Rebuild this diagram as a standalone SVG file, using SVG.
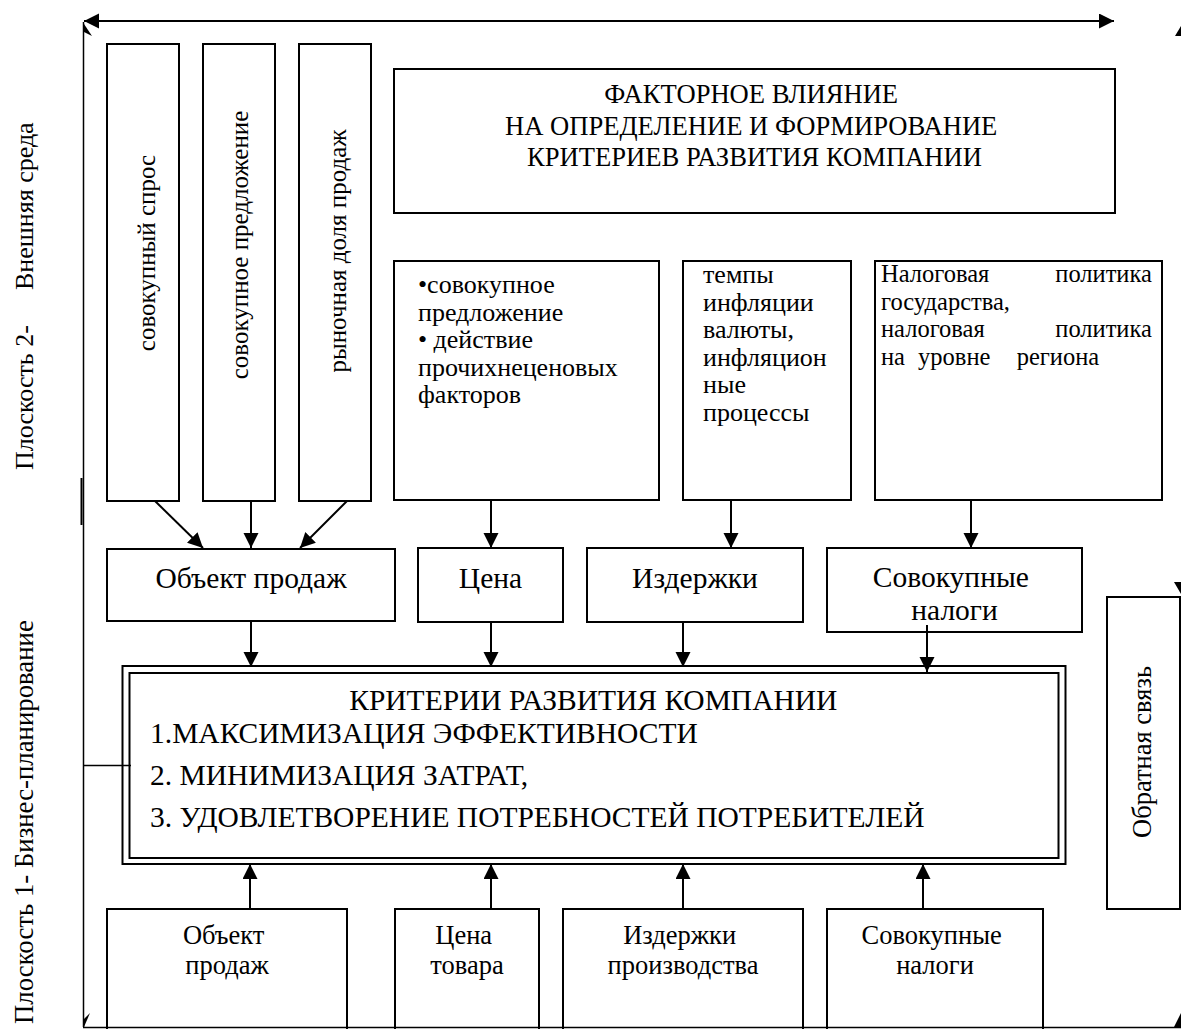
<svg xmlns="http://www.w3.org/2000/svg" width="1181" height="1029" viewBox="0 0 1181 1029">
<style>
.box{fill:#fff;stroke:#000;stroke-width:2}
.t{font-family:'Liberation Serif','Times New Roman',serif;fill:#000}
.c{stroke:#000;stroke-width:2;fill:none}
.thin{stroke:#000;stroke-width:1.5;fill:none}
.ah{fill:#000;stroke:none}
</style>
<defs>
<marker id="arr" markerUnits="userSpaceOnUse" markerWidth="16" markerHeight="16" refX="15" refY="7.5" orient="auto-start-reverse">
<path d="M0,0 L15,7.5 L0,15 z" fill="#000"/>
</marker>
</defs>
<rect width="1181" height="1029" fill="#fff"/>

<g id="label-plane2">
<text class="t" font-size="26" transform="translate(33,0) rotate(-90)"><tspan x="-470" y="0">Плоскость 2-</tspan><tspan x="-290" y="0">Внешняя среда</tspan></text>
</g>
<g id="label-plane1">
<text class="t" font-size="26.8" transform="translate(33,0) rotate(-90)" x="-1024" y="0">Плоскость 1- Бизнес-планирование</text>
</g>

<g id="n-sovokupny-spros">
<rect class="box" x="107" y="44" width="72" height="457"/>
<text class="t" font-size="25" text-anchor="middle" transform="translate(155,253) rotate(-90)">совокупный спрос</text>
</g>
<g id="n-sovokupnoe-predlozhenie">
<rect class="box" x="203" y="44" width="72" height="457"/>
<text class="t" font-size="25" text-anchor="middle" transform="translate(248,245) rotate(-90)">совокупное предложение</text>
</g>
<g id="n-rynochnaya-dolya">
<rect class="box" x="299" y="44" width="72" height="457"/>
<text class="t" font-size="25" text-anchor="middle" transform="translate(346,251) rotate(-90)">рыночная доля продаж</text>
</g>

<g id="n-factor-title">
<rect class="box" x="394" y="69" width="721" height="144"/>
<text class="t" font-size="26.6" text-anchor="middle">
<tspan x="754.5" y="103">ФАКТОРНОЕ ВЛИЯНИЕ</tspan>
<tspan x="754.5" y="135">НА ОПРЕДЕЛЕНИЕ И ФОРМИРОВАНИЕ</tspan>
<tspan x="754.5" y="166">КРИТЕРИЕВ РАЗВИТИЯ КОМПАНИИ</tspan>
</text>
</g>

<g id="n-price-factors">
<rect class="box" x="394" y="261" width="265" height="239"/>
<text class="t" font-size="26">
<tspan x="418" y="293">•совокупное</tspan>
<tspan x="418" y="320.5">предложение</tspan>
<tspan x="418" y="348">• действие</tspan>
<tspan x="418" y="375.5">прочихнеценовых</tspan>
<tspan x="418" y="403">факторов</tspan>
</text>
</g>

<g id="n-inflation">
<rect class="box" x="683" y="261" width="168" height="239"/>
<text class="t" font-size="26">
<tspan x="703" y="283">темпы</tspan>
<tspan x="703" y="310.5">инфляции</tspan>
<tspan x="703" y="338">валюты,</tspan>
<tspan x="703" y="365.5">инфляцион</tspan>
<tspan x="703" y="393">ные</tspan>
<tspan x="703" y="420.5">процессы</tspan>
</text>
</g>

<g id="n-tax-policy">
<rect class="box" x="875" y="261" width="287" height="239"/>
<text class="t" font-size="24.5">
<tspan x="881" y="282">Налоговая</tspan><tspan x="1158" y="282" text-anchor="end">политика</tspan>
<tspan x="881" y="309.5">государства,</tspan>
<tspan x="881" y="337">налоговая</tspan><tspan x="1158" y="337" text-anchor="end">политика</tspan>
<tspan x="881" y="364.5" xml:space="preserve" word-spacing="7">на уровне  региона</tspan>
</text>
</g>

<g id="n-object-sales">
<rect class="box" x="107" y="549" width="288" height="72"/>
<text class="t" font-size="29.5" text-anchor="middle" x="251" y="588">Объект продаж</text>
</g>
<g id="n-price">
<rect class="box" x="418" y="548" width="145" height="74"/>
<text class="t" font-size="29.5" text-anchor="middle" x="490.5" y="588">Цена</text>
</g>
<g id="n-costs">
<rect class="box" x="587" y="548" width="216" height="74"/>
<text class="t" font-size="29.5" text-anchor="middle" x="695" y="588">Издержки</text>
</g>
<g id="n-total-taxes">
<rect class="box" x="827" y="548" width="255" height="84"/>
<text class="t" font-size="29.5" text-anchor="middle">
<tspan x="954.5" y="587">Совокупные</tspan>
<tspan x="954.5" y="620">налоги</tspan>
</text>
</g>

<g id="n-criteria">
<rect class="box" x="122.5" y="666" width="943" height="198"/>
<rect class="box" x="129.5" y="673" width="929" height="185"/>
<text class="t" font-size="29.5">
<tspan x="597" y="710" text-anchor="middle">КРИТЕРИИ РАЗВИТИЯ КОМПАНИИ</tspan>
<tspan x="150" y="743">1.МАКСИМИЗАЦИЯ ЭФФЕКТИВНОСТИ</tspan>
<tspan x="150" y="785">2. МИНИМИЗАЦИЯ ЗАТРАТ,</tspan>
<tspan x="150" y="827">3. УДОВЛЕТВОРЕНИЕ ПОТРЕБНОСТЕЙ ПОТРЕБИТЕЛЕЙ</tspan>
</text>
</g>

<g id="n-object-sales-2">
<rect class="box" x="107" y="909" width="240" height="140"/>
<text class="t" font-size="26.5" text-anchor="middle">
<tspan x="227" y="944">Объект</tspan>
<tspan x="227" y="974">продаж</tspan>
</text>
</g>
<g id="n-price-goods">
<rect class="box" x="395" y="909" width="144" height="140"/>
<text class="t" font-size="26.5" text-anchor="middle">
<tspan x="467" y="944">Цена</tspan>
<tspan x="467" y="974">товара</tspan>
</text>
</g>
<g id="n-production-costs">
<rect class="box" x="563" y="909" width="240" height="140"/>
<text class="t" font-size="26.5" text-anchor="middle">
<tspan x="683" y="944">Издержки</tspan>
<tspan x="683" y="974">производства</tspan>
</text>
</g>
<g id="n-total-taxes-2">
<rect class="box" x="827" y="909" width="216" height="140"/>
<text class="t" font-size="26.5" text-anchor="middle">
<tspan x="935" y="944">Совокупные</tspan>
<tspan x="935" y="974">налоги</tspan>
</text>
</g>

<g id="n-feedback">
<rect class="box" x="1107" y="597" width="73" height="312"/>
<text class="t" font-size="26.5" text-anchor="middle" transform="translate(1151,752) rotate(-90)">Обратная связь</text>
</g>

<g id="connectors">
<line class="c" x1="84" y1="21" x2="1114" y2="21" marker-start="url(#arr)" marker-end="url(#arr)"/>
<line class="thin" x1="83.5" y1="22" x2="83.5" y2="1027"/>
<line class="thin" x1="83" y1="1027.5" x2="1181" y2="1027.5"/>
<line class="c" x1="81.5" y1="478" x2="81.5" y2="525"/>
<line class="thin" x1="83" y1="765.5" x2="131" y2="765.5"/>
<polygon class="ah" points="84,24 92,36 84,32"/>
<polygon class="ah" points="90,1013 84,1027 84,1019"/>
<polygon class="ah" points="1181,26 1175,36 1181,36"/>
<polygon class="ah" points="1174,582 1181,582 1181,594"/>
<polygon class="ah" points="1181,1013 1174,1027 1181,1027"/>
<line class="c" x1="155" y1="501" x2="203" y2="548" marker-end="url(#arr)"/>
<line class="c" x1="251" y1="501" x2="251" y2="548" marker-end="url(#arr)"/>
<line class="c" x1="347" y1="501" x2="300" y2="548" marker-end="url(#arr)"/>
<line class="c" x1="491" y1="500" x2="491" y2="548" marker-end="url(#arr)"/>
<line class="c" x1="731" y1="500" x2="731" y2="548" marker-end="url(#arr)"/>
<line class="c" x1="971" y1="500" x2="971" y2="548" marker-end="url(#arr)"/>
<line class="c" x1="251" y1="621" x2="251" y2="667" marker-end="url(#arr)"/>
<line class="c" x1="491" y1="622" x2="491" y2="667" marker-end="url(#arr)"/>
<line class="c" x1="683" y1="622" x2="683" y2="667" marker-end="url(#arr)"/>
<line class="c" x1="927" y1="625" x2="927" y2="672" marker-end="url(#arr)"/>
<line class="c" x1="250" y1="909" x2="250" y2="864" marker-end="url(#arr)"/>
<line class="c" x1="491" y1="909" x2="491" y2="864" marker-end="url(#arr)"/>
<line class="c" x1="683" y1="909" x2="683" y2="864" marker-end="url(#arr)"/>
<line class="c" x1="923" y1="909" x2="923" y2="864" marker-end="url(#arr)"/>
</g>
</svg>
